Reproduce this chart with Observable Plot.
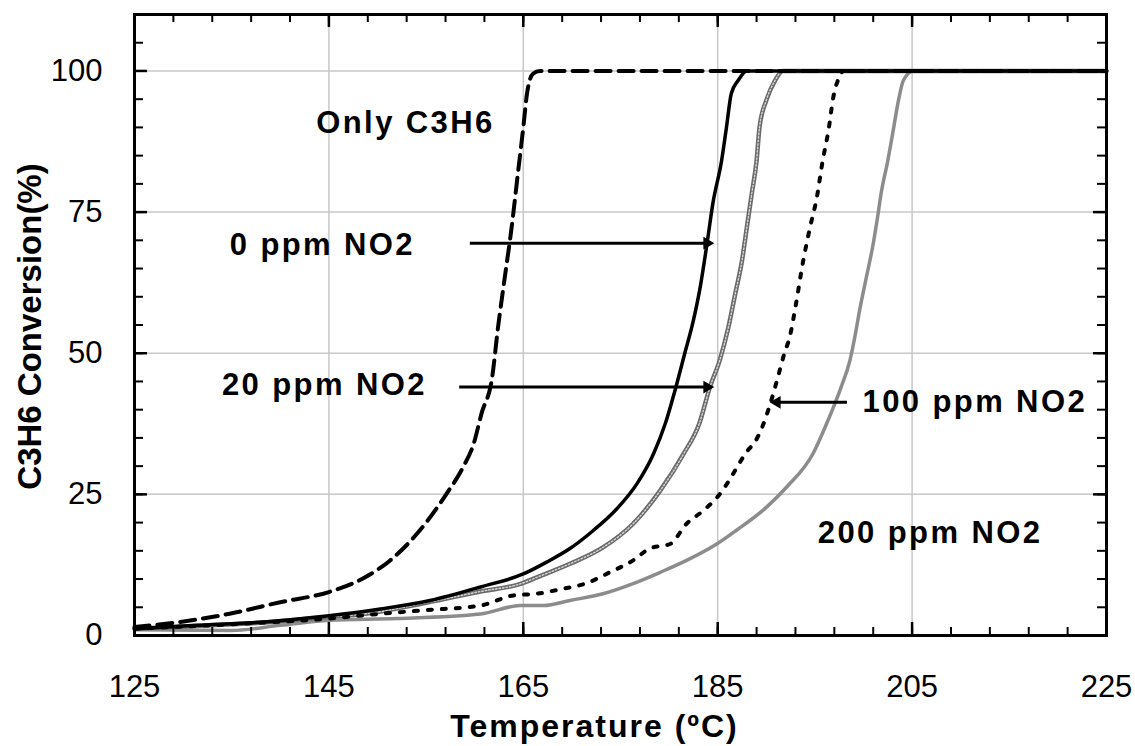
<!DOCTYPE html>
<html><head><meta charset="utf-8">
<script src="https://cdn.jsdelivr.net/npm/d3@7"></script>
<script src="https://cdn.jsdelivr.net/npm/@observablehq/plot@0.6"></script>
<style>
html,body{margin:0;padding:0;background:#fff;}
#chart{width:1135px;height:746px;}
</style></head><body><div id="chart"></div>
<script>
// ---- data ----
const onlyC3H6_T = [125,129.7,134.9,140,145,148.5,151.3,154.1,157.1,158.8,159.9,160.7,161.8,162.4,163.1,163.8,164.4,165,165.4,166,166.7,225];
const onlyC3H6_V = [1.5,2.4,3.9,5.9,7.7,10.1,13.3,18.1,25.1,29.8,34,39.3,45.8,54.6,63.5,72.3,81.2,90,96.2,99.5,100,100];

const no2_0_T = [125,131.4,138.3,145,150.3,155.4,160.6,165,167.4,169.8,172.2,174.6,176.7,178.4,179.6,180.7,181.6,182.5,183.2,183.9,184.5,185.4,185.9,186.4,187.1,188,225];
const no2_0_V = [1.2,1.8,2.4,3.5,4.7,6.2,8.6,10.9,13,15.4,18.6,22.4,26.9,32.2,37.5,44,49.9,55.8,61.7,69.4,76.5,84.1,90,96,98.3,100,100];

const no2_20_T = [125,131.4,138.3,145,148.5,155,160.6,164.8,166.4,169.8,173.2,176.3,179.1,181.5,183.1,184.2,185.2,186.1,186.8,187.5,188,188.5,189,189.3,190,190.9,191.7,225];
const no2_20_V = [1.2,1.7,2.3,3.3,3.8,5.8,7.8,9.2,10.3,12.7,15.6,19.8,25.7,32.2,37.5,44,48.7,54.6,60.5,66.4,72.3,78.2,84.1,90,94.8,98.3,100,100];

const no2_100_T = [125,135,145,150,155,160.6,164,166.4,169.1,171.4,173.9,176.3,178,180.1,181.8,183.5,185.1,186.3,187.4,188.1,188.8,189.6,190.4,191.1,191.9,192.4,193,193.8,194.5,195.2,195.8,196.4,196.9,197.6,197.9,225];
const no2_100_V = [1.2,2.0,3.0,3.8,4.5,5.3,7.1,7.4,8.3,9.2,11.2,13.3,15.4,16.2,19.8,22.1,24.8,27.8,31,32.8,34.2,37,41,45.2,50.2,52.8,58.2,66.4,72.3,77.6,84.1,89.5,95.4,99.2,100,100];

const no2_200_T = [125,134.9,140,145.1,152,160.6,164.7,167.1,169.8,173.2,176.3,179.1,181.8,184.9,186.9,190,192.1,194.8,196.2,196.9,197.7,198.6,199.1,199.6,200.3,201,201.5,201.8,202.5,203,203.6,204.1,205.1,225];
const no2_200_V = [1.0,0.9,1.8,2.7,3.0,3.8,5.3,5.3,6.2,7.4,9.2,11.2,13.3,16.2,18.6,22.7,26.3,32.2,37.5,40.4,44,48.7,52.8,57.6,63.5,69.4,74.7,78.2,84.1,88.9,94.8,98.3,100,100];

const xTickValues = [125,145,165,185,205,225];
const yTickValues = [0,25,50,75,100];
const xMinorTicks = [125,129,133,137,141,145,149,153,157,161,165,169,173,177,181,185,189,193,197,201,205,209,213,217,221,225];
const yMinorTicks = [0,5,10,15,20,25,30,35,40,45,50,55,60,65,70,75,80,85,90,95,100,105,110];
const xGrid = [145,165,185,205];
const yGrid = [25,50,75,100];

const labelText = ["Only C3H6","0 ppm NO2","20 ppm NO2","100 ppm NO2","200 ppm NO2"];
const labelT = [143.7,134.8,134.0,199.9,195.3];
const labelV = [90.7,69.1,44.3,41.3,18.1];

const arrowFromT = [159.5,158.4,198.3];
const arrowToT = [183.9,183.9,191.1];
const arrowV = [69.5,44.0,41.3];

const xTitle = "Temperature (ºC)";
const yTitle = "C3H6 Conversion(%)";

// ---- build ----
const rows = (T, V) => T.map((t, i) => ({t, v: V[i]}));
const sOnly = rows(onlyC3H6_T, onlyC3H6_V);
const s0 = rows(no2_0_T, no2_0_V);
const s20 = rows(no2_20_T, no2_20_V);
const s100 = rows(no2_100_T, no2_100_V);
const s200 = rows(no2_200_T, no2_200_V);
const labels = labelText.map((s, i) => ({s, t: labelT[i], v: labelV[i]}));
const arrows = arrowFromT.map((f, i) => ({from: f, to: arrowToT[i], v: arrowV[i], dir: arrowToT[i] > f ? 1 : -1}));

const W = 1135, H = 746, mL = 134, mR = 29, mT = 14, mB = 111;
const innerW = W - mL - mR, innerH = H - mT - mB;
const font = "'Liberation Sans', Arial, sans-serif";

const chart = Plot.plot({
  width: W, height: H,
  marginLeft: mL, marginRight: mR, marginTop: mT, marginBottom: mB,
  x: {domain: [125, 225]},
  y: {domain: [0, 110]},
  style: {fontFamily: font, color: "#000", background: "#fff"},
  marks: [
    Plot.ruleX(xGrid, {x: d => d, stroke: "#c8c8c8", strokeWidth: 1.5}),
    Plot.ruleY(yGrid, {y: d => d, stroke: "#c8c8c8", strokeWidth: 1.5}),
    Plot.line(s200, {x: "t", y: "v", stroke: "#8c8c8c", strokeWidth: 3.5, curve: "monotone-x"}),
    Plot.line(s20, {x: "t", y: "v", stroke: "#6a6a6a", strokeWidth: 4.5, curve: "monotone-x"}),
    Plot.line(s20, {x: "t", y: "v", stroke: "#d6d6d6", strokeWidth: 1.4, strokeDasharray: "1.5,2", curve: "monotone-x"}),
    Plot.line(s100, {x: "t", y: "v", stroke: "#000", strokeWidth: 4, strokeDasharray: "4,10", curve: "monotone-x"}),
    Plot.line(s0, {x: "t", y: "v", stroke: "#000", strokeWidth: 3.5, curve: "monotone-x"}),
    Plot.line(sOnly, {x: "t", y: "v", stroke: "#000", strokeWidth: 4, strokeDasharray: "15,8", curve: "monotone-x"}),
    // inward ticks
    Plot.tickX(xMinorTicks, {x: d => d, insetTop: innerH - 8, stroke: "#000", strokeWidth: 2}),
    Plot.tickX(xMinorTicks, {x: d => d, insetBottom: innerH - 8, stroke: "#000", strokeWidth: 2}),
    Plot.tickX(xTickValues, {x: d => d, insetTop: innerH - 13, stroke: "#000", strokeWidth: 2.5}),
    Plot.tickX(xTickValues, {x: d => d, insetBottom: innerH - 13, stroke: "#000", strokeWidth: 2.5}),
    Plot.tickY(yMinorTicks, {y: d => d, insetRight: innerW - 9, stroke: "#000", strokeWidth: 2}),
    Plot.tickY(yMinorTicks, {y: d => d, insetLeft: innerW - 9, stroke: "#000", strokeWidth: 2}),
    Plot.tickY(yTickValues, {y: d => d, insetRight: innerW - 13, stroke: "#000", strokeWidth: 2.5}),
    Plot.tickY(yTickValues, {y: d => d, insetLeft: innerW - 13, stroke: "#000", strokeWidth: 2.5}),
    Plot.axisX(xTickValues, {tickSize: 0, tickPadding: 39, fontSize: 31, label: null, fill: "#000"}),
    Plot.axisY(yTickValues, {tickSize: 0, tickPadding: 32, fontSize: 31, label: null, fill: "#000"}),
    Plot.frame({stroke: "#000", strokeWidth: 3}),
    // annotations
    Plot.text(labels, {x: "t", y: "v", text: "s", textAnchor: "start", lineAnchor: "middle", fontSize: 31, fontWeight: "bold", fill: "#000"}),
    Plot.link(arrows, {x1: "from", x2: "to", y1: "v", y2: "v", stroke: "#000", strokeWidth: 3}),
    Plot.dot(arrows, {x: "to", y: "v", symbol: "triangle2", r: 6, fill: "#000", stroke: null, rotate: d => d.dir * 90}),
    // axis titles
    Plot.text([xTitle], {frameAnchor: "bottom", text: d => d, textAnchor: "middle", lineAnchor: "middle", dx: -26, dy: 91, fontSize: 32, fontWeight: "bold", fill: "#000"}),
    Plot.text([yTitle], {frameAnchor: "left", text: d => d, rotate: -90, textAnchor: "middle", lineAnchor: "middle", dx: -104, dy: 1.5, fontSize: 33, fontWeight: "bold", fill: "#000"})
  ]
});
document.getElementById("chart").appendChild(chart);
// letter spacing to match the reference's wide bold labels
d3.select(chart).selectAll("text").each(function() {
  const t = this.textContent;
  if (labelText.includes(t)) this.setAttribute("letter-spacing", "2.4px");
  else if (t === xTitle) this.setAttribute("letter-spacing", "2px");
});
</script>
</body></html>
